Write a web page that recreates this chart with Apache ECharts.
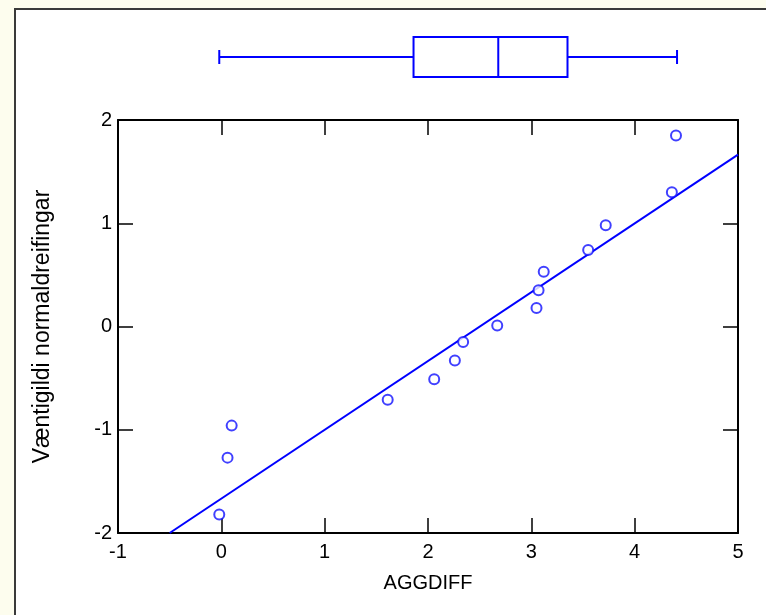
<!DOCTYPE html>
<html>
<head>
<meta charset="utf-8">
<script src="https://cdn.jsdelivr.net/npm/echarts@6/dist/echarts.min.js"></script>
<style>
  html, body { margin: 0; padding: 0; }
  #chart { width: 766px; height: 615px; }
</style>
</head>
<body>
<div id="chart"></div>
<script>
// AGGDIFF gildi og væntigildi normaldreifingar
const aggdiff = [-0.02, 0.06, 0.10, 1.61, 2.06, 2.26, 2.34, 2.67, 3.05, 3.07, 3.12, 3.55, 3.72, 4.36, 4.40];
const normScores = [-1.82, -1.27, -0.96, -0.71, -0.51, -0.33, -0.15, 0.01, 0.18, 0.35, 0.53, 0.74, 0.98, 1.30, 1.85];
// aðfallslína
const fitLine = [[-0.5, -2], [5, 1.665]];
// kassarit: min, Q1, miðgildi, Q3, max
const boxStats = [-0.02, 1.86, 2.68, 3.35, 4.41];
const xTicks = [-1, 0, 1, 2, 3, 4, 5];
const yTicks = [-2, -1, 0, 1, 2];

const chart = echarts.init(document.getElementById('chart'));

const blue = '#0000ff';
const font = 'Liberation Sans, Arial, sans-serif';

const axisCommon = {
  type: 'value',
  axisLine: { show: true, onZero: false, lineStyle: { color: '#000', width: 2 } },
  axisTick: { show: true, inside: true, length: 15, lineStyle: { color: '#000', width: 1.5 } },
  splitLine: { show: false },
  axisLabel: { color: '#000', fontSize: 20, fontFamily: font }
};

const option = {
  backgroundColor: '#fdfdee',
  animation: false,
  graphic: [{
    type: 'rect',
    z: -10,
    shape: { x: 15, y: 9, width: 800, height: 700 },
    style: { fill: '#fff', stroke: '#3a3a3a', lineWidth: 2 }
  }],
  grid: [
    { left: 118, top: 120, width: 620, height: 413 },
    { left: 118, top: 37, width: 620, height: 40 }
  ],
  xAxis: [
    Object.assign({}, axisCommon, {
      gridIndex: 0, min: xTicks[0], max: xTicks[xTicks.length - 1], interval: 1,
      position: 'bottom',
      name: 'AGGDIFF', nameLocation: 'middle', nameGap: 40,
      nameTextStyle: { color: '#000', fontSize: 20, fontFamily: font },
      axisLabel: Object.assign({}, axisCommon.axisLabel, { margin: 9 })
    }),
    Object.assign({}, axisCommon, {
      gridIndex: 0, min: xTicks[0], max: xTicks[xTicks.length - 1], interval: 1,
      position: 'top', axisLabel: { show: false }
    }),
    {
      type: 'value', gridIndex: 1, min: xTicks[0], max: xTicks[xTicks.length - 1],
      show: false
    }
  ],
  yAxis: [
    Object.assign({}, axisCommon, {
      gridIndex: 0, min: yTicks[0], max: yTicks[yTicks.length - 1], interval: 1,
      position: 'left',
      name: 'Væntigildi normaldreifingar', nameLocation: 'middle', nameGap: 64,
      nameTextStyle: { color: '#000', fontSize: 23, fontFamily: font },
      axisLabel: Object.assign({}, axisCommon.axisLabel, { margin: 6 })
    }),
    Object.assign({}, axisCommon, {
      gridIndex: 0, min: yTicks[0], max: yTicks[yTicks.length - 1], interval: 1,
      position: 'right', axisLabel: { show: false }
    }),
    {
      type: 'value', gridIndex: 1, min: 0, max: 1, show: false
    }
  ],
  series: [
    {
      type: 'line',
      xAxisIndex: 0, yAxisIndex: 0,
      data: fitLine,
      symbol: 'none',
      lineStyle: { color: blue, width: 2 },
      z: 2
    },
    {
      type: 'scatter',
      xAxisIndex: 0, yAxisIndex: 0,
      data: aggdiff.map((v, i) => [v, normScores[i]]),
      symbol: 'emptyCircle',
      symbolSize: 10,
      itemStyle: { color: '#1010ff', borderWidth: 1.3 },
      z: 3
    },
    {
      type: 'custom',
      xAxisIndex: 2, yAxisIndex: 2,
      data: [boxStats],
      encode: { x: [0, 1, 2, 3, 4] },
      renderItem: function (params, api) {
        const yc = api.coord([0, 0.5])[1];
        const top = api.coord([0, 1])[1];
        const bot = api.coord([0, 0])[1];
        const xs = [0, 1, 2, 3, 4].map(i => api.coord([api.value(i), 0.5])[0]);
        const cap = 7;
        const st = { stroke: blue, lineWidth: 2, fill: null };
        return {
          type: 'group',
          children: [
            { type: 'line', shape: { x1: xs[0], y1: yc, x2: xs[1], y2: yc }, style: st },
            { type: 'line', shape: { x1: xs[3], y1: yc, x2: xs[4], y2: yc }, style: st },
            { type: 'line', shape: { x1: xs[0], y1: yc - cap, x2: xs[0], y2: yc + cap }, style: st },
            { type: 'line', shape: { x1: xs[4], y1: yc - cap, x2: xs[4], y2: yc + cap }, style: st },
            { type: 'rect', shape: { x: xs[1], y: top, width: xs[3] - xs[1], height: bot - top }, style: { stroke: blue, lineWidth: 2, fill: '#fff' } },
            { type: 'line', shape: { x1: xs[2], y1: top, x2: xs[2], y2: bot }, style: st }
          ]
        };
      }
    }
  ]
};

chart.setOption(option);
</script>
</body>
</html>
